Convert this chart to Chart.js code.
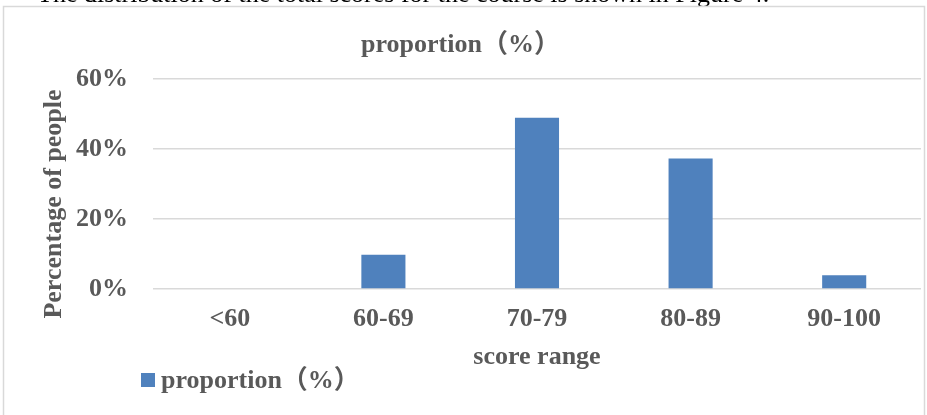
<!DOCTYPE html>
<html>
<head>
<meta charset="utf-8">
<title>proportion（%）</title>
<script src="https://cdn.jsdelivr.net/npm/chart.js@4.4.1/dist/chart.umd.min.js"></script>
<style>
  html, body { margin: 0; padding: 0; background: #ffffff; }
  #wrap { width: 927px; height: 415px; position: relative; }
</style>
</head>
<body>
<div id="wrap"><canvas id="chart" width="927" height="415"></canvas></div>
<script>
// Score ranges and the share of students in each
const categories = ['<60', '60-69', '70-79', '80-89', '90-100'];
const proportions = [0, 9.8, 49.0, 37.3, 3.9];
const yTicks = [0, 20, 40, 60];

const seriesLabel = 'proportion（%）';
const chartTitle = 'proportion（%）';
const xAxisTitle = 'score range';
const yAxisTitle = 'Percentage of people';
const captionLine = 'The distribution of the total scores for the course is shown in Figure 4.';

const SERIF = "'Liberation Serif', 'Times New Roman', 'Noto Sans CJK SC', serif";
const GREY = '#595959';
const BAR = '#4F81BD';

// Frame, caption line, rotated y title and the legend key
const decorations = {
  id: 'decorations',
  beforeDraw(chart) {
    const ctx = chart.ctx;
    ctx.save();
    ctx.fillStyle = '#ffffff';
    ctx.fillRect(0, 0, chart.width, chart.height);
    ctx.fillStyle = '#000000';
    ctx.font = '26px ' + SERIF;
    ctx.textBaseline = 'alphabetic';
    ctx.textAlign = 'left';
    ctx.fillText(captionLine, 37, 1.5);
    ctx.strokeStyle = '#D9D9D9';
    ctx.lineWidth = 1.5;
    ctx.strokeRect(3.5, 6.5, 921, 420);
    ctx.restore();
  },
  afterDraw(chart) {
    const ctx = chart.ctx;
    ctx.save();
    ctx.fillStyle = GREY;
    ctx.font = 'bold 26px ' + SERIF;
    ctx.translate(54, 204);
    ctx.rotate(-Math.PI / 2);
    ctx.textAlign = 'center';
    ctx.textBaseline = 'middle';
    ctx.fillText(yAxisTitle, 0, 0);
    ctx.restore();

    const ds = chart.data.datasets[0];
    ctx.save();
    ctx.fillStyle = ds.backgroundColor;
    ctx.fillRect(141, 373, 14, 14);
    ctx.fillStyle = GREY;
    ctx.font = 'bold 26px ' + SERIF;
    ctx.textAlign = 'left';
    ctx.textBaseline = 'middle';
    ctx.fillText(ds.label, 161, 381);
    ctx.restore();
  }
};

new Chart(document.getElementById('chart'), {
  type: 'bar',
  data: {
    labels: categories,
    datasets: [{
      label: seriesLabel,
      data: proportions,
      backgroundColor: BAR,
      borderWidth: 0,
      categoryPercentage: 1.0,
      barPercentage: 0.287
    }]
  },
  options: {
    responsive: false,
    animation: false,
    layout: { padding: { left: 0, right: 6, top: 0, bottom: 0 } },
    plugins: {
      legend: { display: false },
      tooltip: { enabled: false },
      title: {
        display: true,
        text: chartTitle,
        color: GREY,
        font: { family: SERIF, size: 26, weight: 'bold', lineHeight: 1.2 },
        padding: { top: 30, bottom: 18 }
      }
    },
    scales: {
      x: {
        grid: { display: false, drawTicks: false },
        border: { display: false },
        ticks: {
          color: GREY,
          padding: 15,
          font: { family: SERIF, size: 26, weight: 'bold' }
        },
        title: {
          display: true,
          text: xAxisTitle,
          color: GREY,
          font: { family: SERIF, size: 26, weight: 'bold', lineHeight: 1.2 },
          padding: { top: 0, bottom: 42 }
        },
        afterFit(scale) { scale.height = 126; }
      },
      y: {
        min: 0,
        max: 60,
        afterBuildTicks(scale) { scale.ticks = yTicks.map(v => ({ value: v })); },
        grid: { color: '#D9D9D9', lineWidth: 1.5, drawTicks: false },
        border: { display: false },
        ticks: {
          color: GREY,
          padding: 25,
          font: { family: SERIF, size: 26, weight: 'bold' },
          callback: v => v + '%'
        },
        afterFit(scale) { scale.width = 153; }
      }
    }
  },
  plugins: [decorations]
});
</script>
</body>
</html>
